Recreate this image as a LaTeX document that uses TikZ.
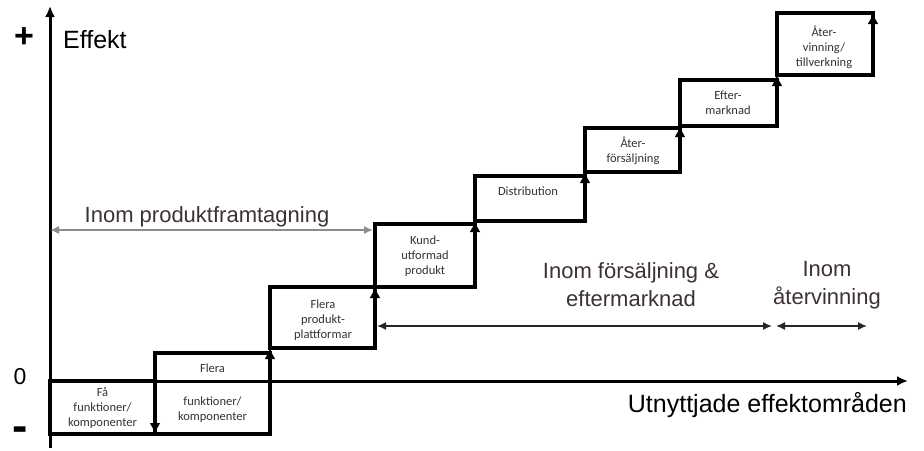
\documentclass[tikz,border=0pt]{standalone}
\usepackage{fontspec}
\setmainfont{Liberation Sans}
\newfontfamily\boxfont{Carlito}
\usetikzlibrary{arrows.meta}

\definecolor{labelgray}{RGB}{60,50,50}
\definecolor{spangray}{RGB}{140,140,140}

\begin{document}
\begin{tikzpicture}[x=1pt,y=-1pt,
  stepbox/.style={draw, line width=4pt, outer sep=0pt, inner sep=0pt},
  steptext/.style={font=\boxfont\fontsize{12.5}{15}\selectfont, text=black!80, align=center, inner sep=0pt},
  steparrow/.style={line width=4pt, -{Latex[length=11pt,width=11pt]}},
  axisline/.style={line width=3pt, -{Latex[length=11pt,width=10pt]}},
  spanarrow/.style={line width=1.5pt, {Latex[length=9pt,width=8pt]}-{Latex[length=9pt,width=8pt]}},
  biglabel/.style={font=\fontsize{25}{30}\selectfont, inner sep=0pt},
  signlabel/.style={font=\bfseries\fontsize{34}{34}\selectfont, inner sep=0pt},
  scopelabel/.style={font=\fontsize{22}{28}\selectfont, text=labelgray, align=center, inner sep=0pt},
]
\useasboundingbox (0,0) rectangle (924,450);

% staircase of boxes
\node[stepbox, minimum width=105pt, minimum height=53pt] (b1) at (102.5,407.5) {};
\node[stepbox, minimum width=115pt, minimum height=81pt] (b2) at (212.5,393.5) {};
\node[stepbox, minimum width=105pt, minimum height=61pt] (b3) at (322.5,317.5) {};
\node[stepbox, minimum width=100pt, minimum height=63pt] (b4) at (425,255.5) {};
\node[stepbox, minimum width=110pt, minimum height=45pt] (b5) at (530,198.5) {};
\node[stepbox, minimum width=95pt,  minimum height=44pt] (b6) at (632.5,150) {};
\node[stepbox, minimum width=97pt,  minimum height=46pt] (b7) at (728.5,103) {};
\node[stepbox, minimum width=96pt,  minimum height=62pt] (b8) at (825,44) {};

% arrows along the rising edges
\draw[steparrow] (b2.north west) -- (b1.south east);
\draw[steparrow] (b2.south east) -- (b3.south west);
\draw[steparrow] (b3.south east) -- (b4.south west);
\draw[steparrow] (b4.south east) -- (b5.south west);
\draw[steparrow] (b5.south east) -- (b6.south west);
\draw[steparrow] (b6.south east) -- (b7.south west);
\draw[steparrow] (b7.south east) -- (b8.south west);
\draw[steparrow] (b8.south east) -- (b8.north east);

% box texts
\node[steptext] (t1) at (102.5,408) {Få\\funktioner/\\komponenter};
\node[steptext] (t2a) at (212.5,368) {Flera};
\node[steptext] (t2b) at (212.5,410) {funktioner/\\komponenter};
\node[steptext] (t3) at (323,320) {Flera\\produkt-\\plattformar};
\node[steptext] (t4) at (425,256) {Kund-\\utformad\\produkt};
\node[steptext] (t5) at (528,191) {Distribution};
\node[steptext] (t6) at (633,151) {Åter-\\försäljning};
\node[steptext] (t7) at (728,103) {Efter-\\marknad};
\node[steptext] (t8) at (824,47) {Åter-\\vinning/\\tillverkning};

% axes
\coordinate (ybot) at (50,448);
\coordinate (ytop) at (50,6);
\coordinate (xorg) at (50,381);
\coordinate (xend) at (908,381);
\draw[axisline] (ybot) -- (ytop);
\draw[axisline] (xorg) -- (xend);

\node[signlabel] (plus) at (24,38) {+};
\node[font=\fontsize{23}{23}\selectfont, inner sep=0pt] (zero) at (20,377) {0};
\node[font=\bfseries\fontsize{46}{46}\selectfont, inner sep=0pt] (minus) at (20,434) {-};
\node[biglabel, anchor=west] (effekt) at (63,40) {Effekt};
\node[biglabel, anchor=east] (xlabel) at (907,405) {Utnyttjade effektområden};

% scope spans
\coordinate (s1a) at (50,230);
\coordinate (s1b) at (373,230);
\draw[spanarrow, spangray] (s1a) -- (s1b);
\node[scopelabel] (scope1) at (207,217) {Inom produktframtagning};

\coordinate (s2a) at (377,326);
\coordinate (s2b) at (772,326);
\coordinate (s3a) at (776,326);
\coordinate (s3b) at (867,326);
\draw[spanarrow, black!85] (s2a) -- (s2b);
\draw[spanarrow, black!85] (s3a) -- (s3b);
\node[scopelabel] (scope2) at (631,285) {Inom försäljning \&\\eftermarknad};
\node[scopelabel] (scope3) at (827,285) {Inom\\återvinning};
\end{tikzpicture}
\end{document}
